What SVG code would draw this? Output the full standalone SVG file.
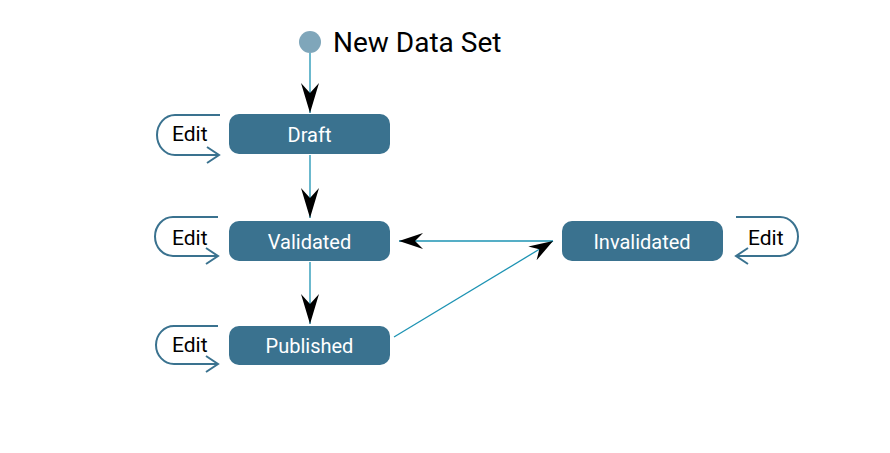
<svg xmlns="http://www.w3.org/2000/svg" width="890" height="453" viewBox="0 0 890 453">
<style>
.node rect{fill:#3a728f;}
.node text{fill:#ffffff;font-family:Roboto,"Liberation Sans",sans-serif;font-size:20px;text-anchor:middle;}
.lbl{fill:#000000;font-family:Roboto,"Liberation Sans",sans-serif;font-size:21px;}
.conn{stroke:#1d93b3;stroke-width:1.3;fill:none;}
.loop{stroke:#3a728f;stroke-width:2;fill:none;}
</style>
<defs>
<marker id="big" markerUnits="userSpaceOnUse" viewBox="0 0 30 18" markerWidth="30" markerHeight="18" refX="30" refY="9" orient="auto">
<path d="M0,0 L30,9 L0,18 L10,9 Z" fill="#000"/>
</marker>
<marker id="small" markerUnits="userSpaceOnUse" viewBox="0 0 24 16" markerWidth="24" markerHeight="16" refX="24" refY="8" orient="auto">
<path d="M0,0 L24,8 L0,16 L8,8 Z" fill="#000"/>
</marker>
<marker id="open" markerUnits="userSpaceOnUse" viewBox="0 0 16 20" markerWidth="16" markerHeight="20" refX="14" refY="10" orient="auto">
<path d="M2,2 L14,10 L2,18" fill="none" stroke="#3a728f" stroke-width="2"/>
</marker>
</defs>
<g id="start">
<circle cx="310" cy="42" r="11" fill="#7fa6ba"/>
<text x="333" y="52" style="font-family:Roboto,'Liberation Sans',sans-serif;font-size:28px;fill:#000">New Data Set</text>
</g>
<g id="connectors">
<line class="conn" x1="310" y1="53" x2="310" y2="113" marker-end="url(#big)"/>
<line class="conn" x1="310" y1="155" x2="310" y2="218" marker-end="url(#big)"/>
<line class="conn" x1="310" y1="262" x2="310" y2="324" marker-end="url(#big)"/>
<line class="conn" x1="553" y1="241" x2="399" y2="241" marker-end="url(#small)"/>
<line class="conn" x1="394" y1="337" x2="553" y2="241" marker-end="url(#small)"/>
<path class="loop" d="M220,115 H175 A18,20 0 0 0 175,155 H219" marker-end="url(#open)"/>
<path class="loop" d="M218,217 H173 A18,19.5 0 0 0 173,256 H218" marker-end="url(#open)"/>
<path class="loop" d="M218,326 H174 A18,19 0 0 0 174,364 H218" marker-end="url(#open)"/>
<path class="loop" d="M736,217 H780 A18,19.5 0 0 1 780,256 H736" marker-end="url(#open)"/>
</g>
<g id="draft" class="node">
<rect x="229" y="114" width="161" height="40" rx="10"/>
<text x="309.5" y="141.5">Draft</text>
</g>
<g id="validated" class="node">
<rect x="229" y="221" width="161" height="40" rx="10"/>
<text x="309.5" y="248.5">Validated</text>
</g>
<g id="published" class="node">
<rect x="229" y="326" width="161" height="39" rx="10"/>
<text x="309.5" y="352.5">Published</text>
</g>
<g id="invalidated" class="node">
<rect x="562" y="221" width="161" height="40" rx="10"/>
<text x="642" y="248.5">Invalidated</text>
</g>
<g id="labels">
<text class="lbl" x="172" y="141">Edit</text>
<text class="lbl" x="172" y="245">Edit</text>
<text class="lbl" x="172" y="352">Edit</text>
<text class="lbl" x="748" y="245">Edit</text>
</g>
</svg>
